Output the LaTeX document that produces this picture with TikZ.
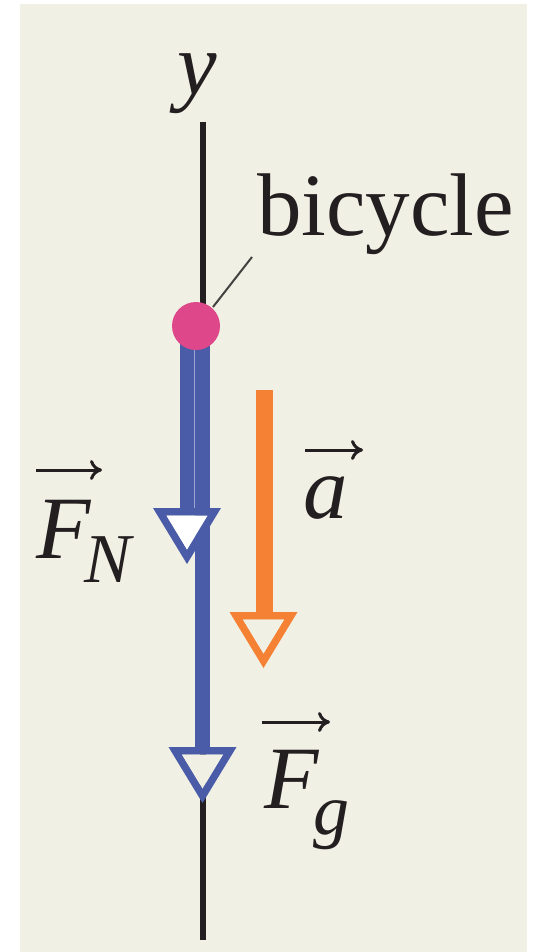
\documentclass[tikz,border=0pt]{standalone}
\usepackage{fontspec}
\setmainfont{Liberation Serif}
\usetikzlibrary{arrows.meta}
\definecolor{bgbeige}{RGB}{240,240,228}
\definecolor{forceblue}{RGB}{74,91,168}
\definecolor{accorange}{RGB}{245,130,52}
\definecolor{dotpink}{RGB}{222,72,138}
\definecolor{axisblack}{RGB}{35,31,32}
\tikzset{
  axisline/.style={draw=axisblack, line width=6pt},
  leader/.style={draw=axisblack!85, line width=2pt},
  shaft/.style={line width=15pt},
  vecarrow/.style={draw=axisblack, line width=3pt, -{To[length=12pt,width=20pt]}},
  lbl/.style={inner sep=0pt, anchor=base west, text=axisblack, font=\fontsize{89}{92}\selectfont},
  pics/openhead/.style n args={2}{code={
    \fill[#1, even odd rule] (-34,0) -- (34,0) -- (0,56) -- cycle
      (-20.6,7.5) -- (20.6,7.5) -- (0,41.5) -- cycle;
    \fill[#2] (-20.6,7.5) -- (20.6,7.5) -- (0,41.5) -- cycle;
  }}
}
\begin{document}
\begin{tikzpicture}[x=1pt,y=-1pt]
\useasboundingbox (0,0) rectangle (538,952);
\fill[white] (0,0) rectangle (538,952);
\fill[bgbeige] (19.5,4) rectangle (527,952);

% axis
\coordinate (axtop) at (203,122);
\coordinate (axbot) at (203,940);
\draw[axisline] (axtop) -- (axbot);
\node[inner sep=0pt, anchor=base, text=axisblack, font=\fontsize{89}{92}\selectfont\itshape] (ylbl) at (197,95) {y};

% body
\coordinate (body) at (196,326);

% label bicycle with leader
\node[lbl] (bike) at (257,235) {bicycle};
\coordinate (leadA) at (213,307);
\coordinate (leadB) at (252,257);
\draw[leader] (leadA) -- (leadB);

% normal force
\coordinate (fnS) at (187,326);
\coordinate (fnE) at (187,511);
\draw[forceblue, shaft] (fnS) -- (fnE);

% gravitational force
\coordinate (fgS) at (202.5,326);
\coordinate (fgE) at (202.5,750);
\draw[forceblue, shaft] (fgS) -- (fgE);
\draw[forceblue!55!white, line width=1.4pt] (194.75,326) -- (194.75,508);
\pic at (187,508) {openhead={forceblue}{white}};
\pic at (202.5,747) {openhead={forceblue}{bgbeige}};

% acceleration
\coordinate (aS) at (264,390);
\coordinate (aE) at (264,615);
\draw[accorange, line width=17pt] (aS) -- (aE);
\pic at (263.5,612) {openhead={accorange}{bgbeige}};

% body dot
\fill[dotpink] (body) circle[radius=24];

% labels
\node[lbl] (FN) at (36,558) {\itshape F\kern-6pt\raisebox{-24pt}{\fontsize{70}{72}\selectfont N}};
\draw[vecarrow] ([xshift=0pt,yshift=88pt]FN.base west) -- ([xshift=66pt,yshift=88pt]FN.base west);

\node[lbl] (acc) at (303,518) {\itshape a};
\draw[vecarrow] ([xshift=2pt,yshift=68pt]acc.base west) -- ([xshift=60pt,yshift=68pt]acc.base west);

\node[lbl] (Fg) at (264,808) {\itshape F\kern-5pt\raisebox{-26pt}{\fontsize{72}{74}\selectfont g}};
\draw[vecarrow] ([xshift=-2pt,yshift=86pt]Fg.base west) -- ([xshift=66pt,yshift=86pt]Fg.base west);
\end{tikzpicture}
\end{document}
